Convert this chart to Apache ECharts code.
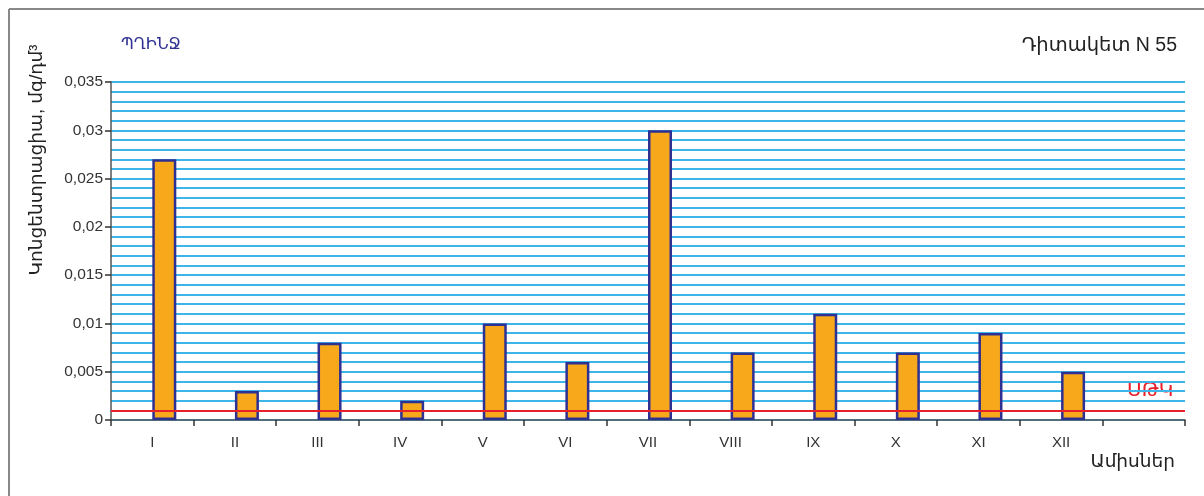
<!DOCTYPE html>
<html><head><meta charset="utf-8">
<script src="https://cdn.jsdelivr.net/npm/echarts@6/dist/echarts.min.js"></script>
<style>html,body{margin:0;padding:0;background:#fff}#c{width:1204px;height:496px}</style>
</head><body><div id="c"></div>
<script>
const categories = ['I','II','III','IV','V','VI','VII','VIII','IX','X','XI','XII',''];
const values = [0.027,0.003,0.008,0.002,0.010,0.006,0.030,0.007,0.011,0.007,0.009,0.005,null];
const limitValue = 0.001;
const yMin = 0, yMax = 0.035, yStep = 0.005;
const titleLeft = 'ՊՂԻՆՋ';
const titleRight = 'Դիտակետ N 55';
const xName = 'Ամիսներ';
const yName = 'Կոնցենտրացիա, մգ/դմ³';
const limitName = 'ՍԹԿ';

const FONT = '"Liberation Sans", Arial, "DejaVu Sans", sans-serif';
const chart = echarts.init(document.getElementById('c'), null, {renderer:'canvas'});
chart.setOption({
  animation:false,
  backgroundColor:'#fff',
  textStyle:{fontFamily:FONT},
  grid:{left:111,right:19,top:82,bottom:76,containLabel:false},
  xAxis:{type:'category',data:categories,
    axisLine:{lineStyle:{color:'#555',width:1.5}},
    axisTick:{show:true,alignWithLabel:false,length:6,lineStyle:{color:'#333',width:1.5}},
    axisLabel:{color:'#333',fontSize:15,margin:15,fontFamily:FONT,interval:0},
    splitLine:{show:false}},
  yAxis:{type:'value',min:yMin,max:yMax,interval:yStep,
    axisLine:{show:true,lineStyle:{color:'#555',width:1.5}},
    axisTick:{show:true,length:6,lineStyle:{color:'#333',width:1.5}},
    axisLabel:{color:'#333',fontSize:15.5,margin:8,fontFamily:FONT,
      formatter:v=>v===0?'0':String(+v.toFixed(3)).replace('.',',')},
    splitLine:{show:true,lineStyle:{color:'#3DB5E8',width:2}},
    minorTick:{show:false,splitNumber:5},
    minorSplitLine:{show:true,lineStyle:{color:'#3DB5E8',width:2}}},
  series:[
    {type:'bar',data:categories.map(()=>null),barWidth:24,barGap:'0%'},
    {type:'bar',data:values,barWidth:24,barGap:'0%',
      itemStyle:{color:'#F7A81B',borderColor:'#2E3192',borderWidth:2.5},
      markLine:{silent:true,precision:5,symbol:['none','none'],label:{show:false},
        lineStyle:{color:'#E8202A',width:2,type:'solid'},
        data:[{yAxis:limitValue}]}}
  ],
  graphic:[
    {type:'line',shape:{x1:9,y1:9,x2:9,y2:496},style:{stroke:'#888',lineWidth:2}},
    {type:'line',shape:{x1:9,y1:9,x2:1204,y2:9},style:{stroke:'#888',lineWidth:2}},
    {type:'text',left:121,top:37,style:{text:titleLeft,fill:'#2E3192',font:'16px '+FONT}},
    {type:'text',right:27,top:36,style:{text:titleRight,fill:'#222',font:'19.5px '+FONT}},
    {type:'text',right:29,top:452,style:{text:xName,fill:'#222',font:'18.5px '+FONT}},
    {type:'text',left:1127,top:380,style:{text:limitName,fill:'#E8202A',font:'20px '+FONT}},
    {type:'text',x:37,y:160,rotation:Math.PI/2,
      style:{text:yName,fill:'#222',font:'18.5px '+FONT,textAlign:'center',textVerticalAlign:'middle'}}
  ]
});
</script></body></html>
